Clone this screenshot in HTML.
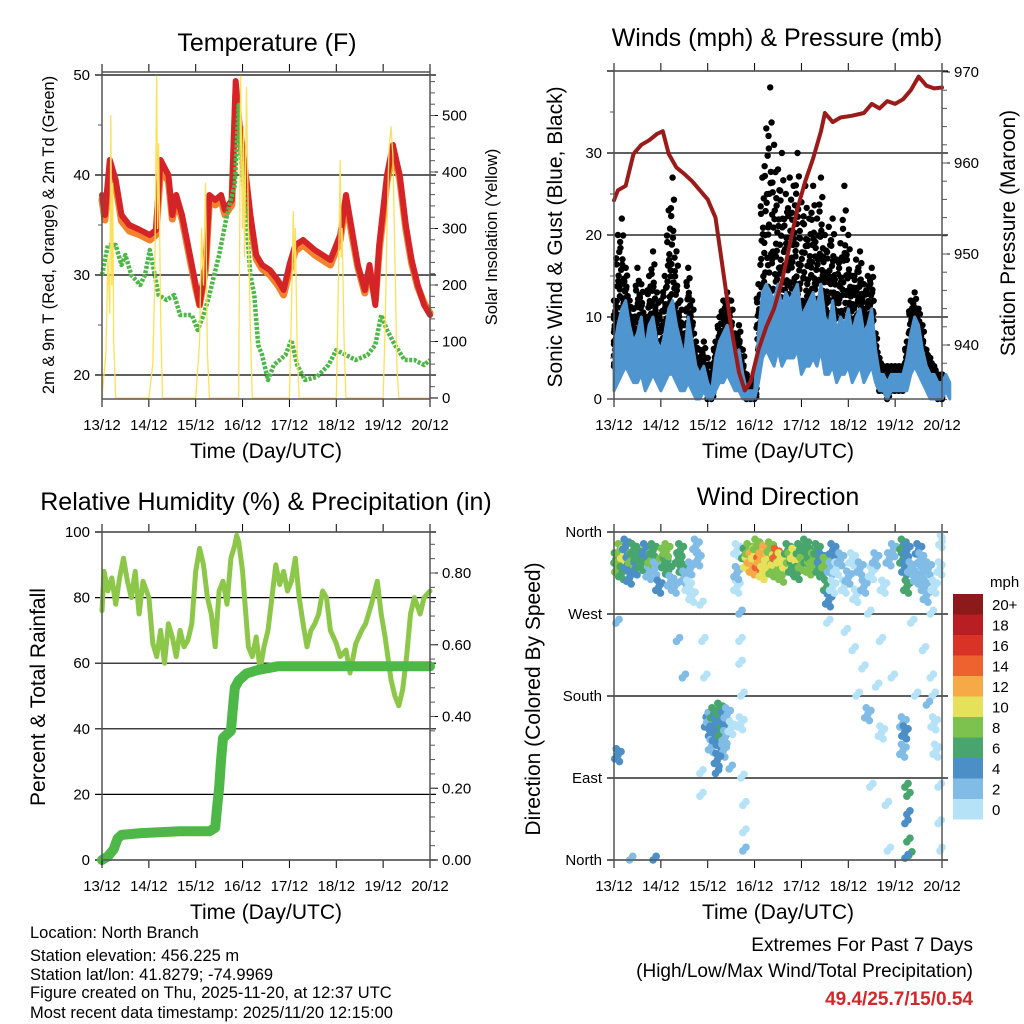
<!DOCTYPE html>
<html><head><meta charset="utf-8"><style>
html,body{margin:0;padding:0;background:#fff;}
svg{display:block;font-family:"Liberation Sans",Arial,sans-serif;}
</style></head><body>
<svg id="chart" xmlns="http://www.w3.org/2000/svg" width="1024" height="1024" viewBox="0 0 1024 1024">
<rect width="1024" height="1024" fill="#fff"/>
<text x="267" y="51" font-size="25" text-anchor="middle">Temperature (F)</text>
<text x="777" y="46" font-size="25" text-anchor="middle">Winds (mph) &amp; Pressure (mb)</text>
<text x="266" y="510" font-size="25" text-anchor="middle">Relative Humidity (%) &amp; Precipitation (in)</text>
<text x="778" y="505" font-size="25" text-anchor="middle">Wind Direction</text>
<text x="266" y="458" font-size="21" text-anchor="middle">Time (Day/UTC)</text>
<text x="778" y="458" font-size="21" text-anchor="middle">Time (Day/UTC)</text>
<text x="266" y="919" font-size="21" text-anchor="middle">Time (Day/UTC)</text>
<text x="778" y="919" font-size="21" text-anchor="middle">Time (Day/UTC)</text>
<text transform="translate(54,235) rotate(-90)" font-size="16.5" text-anchor="middle">2m &amp; 9m T (Red, Orange) &amp; 2m Td (Green)</text>
<text transform="translate(497,237) rotate(-90)" font-size="16.5" text-anchor="middle">Solar Insolation (Yellow)</text>
<text transform="translate(562,237) rotate(-90)" font-size="21" text-anchor="middle">Sonic Wind &amp; Gust (Blue, Black)</text>
<text transform="translate(1015,233) rotate(-90)" font-size="21" text-anchor="middle">Station Pressure (Maroon)</text>
<text transform="translate(45,697) rotate(-90)" font-size="21" text-anchor="middle">Percent &amp; Total Rainfall</text>
<text transform="translate(540,699) rotate(-90)" font-size="21" text-anchor="middle">Direction (Colored By Speed)</text>
<g font-size="16.5">
<text x="30" y="938">Location: North Branch</text>
<text x="30" y="961">Station elevation: 456.225 m</text>
<text x="30" y="980">Station lat/lon: 41.8279; -74.9969</text>
<text x="30" y="998">Figure created on Thu, 2025-11-20, at 12:37 UTC</text>
<text x="30" y="1018">Most recent data timestamp: 2025/11/20 12:15:00</text>
</g>
<text x="973" y="951" font-size="19" text-anchor="end">Extremes For Past 7 Days</text>
<text x="973" y="977" font-size="19" text-anchor="end">(High/Low/Max Wind/Total Precipitation)</text>
<text x="973" y="1005" font-size="19" font-weight="bold" fill="#d0282b" text-anchor="end">49.4/25.7/15/0.54</text>
<text x="990" y="587" font-size="15">mph</text>
</svg>
<script>
// ---------- DATA ----------
const dayLabels = ["13/12","14/12","15/12","16/12","17/12","18/12","19/12","20/12"];
const tempHours = [0,1.5,4,7,10,14,19.5,24.5,27.6,30,34,36,38,41,45,48,50,53,55,58,61,63,66.5,68.5,70.5,73.7,76,79,82,86,90,93,96,99,103,109,117,122,125,128,131,134.6,137,140,142,146,149,152.5,155.6,158.6,161.7,165,168];
const temp2m = [38,36,41.5,39.5,36,35,34.5,34,34.5,41.5,40,36,38,36,32,29,27,31,38,37.5,38,36.5,37.5,49.4,45,40,36,32,31,30.5,29.5,28.5,31,33,33.5,32.5,31.5,34,38,34.5,31,28.5,31,27,33,40,43,40,35,31.5,29,27,26];
const temp9m = [37.5,35.5,40.8,39,35.4,34.4,34,33.5,34,40.5,39.4,35.6,37.5,35.6,31.6,28.7,27,30.5,37.5,37,37.5,36,37,48,44.5,39.5,35.5,31.6,30.6,30,29,28,30.4,32.4,33,32,31,33.5,37.5,34,30.8,28.2,30.6,27.4,32.4,39.4,42.4,39.6,34.6,31.2,28.8,27.2,26.2];
const dewHours = [0,3,7,10,12,15,19.5,22,24.5,26,29,33,37,40,43,46,49,52,55,60,64,68,70,71,73,76,78,80,82,85,88,91,94,97,100,104,110,116,120,125,130,136,140,143,146,150,155,160,165,168];
const dewPoint = [30,33,33,31,32,30,29,30,32.5,31,28,27.5,28,26,26,26,24.5,26,28,32,36,39,47,42,38,30,28,23,22,19.5,21,21.5,22,23.5,21,19.5,19.8,21,22.5,22,21.5,22,23,26,24.5,23,21.5,21.5,21,21.5];
const solarHours = [0,2,3,4,4.5,5,5.5,6,7,24,26,27,28,28.5,29,30,31,48,50,51,52,53,54,55,70,71,72,72.5,73,74,75,76,77,96,97,98,98.5,99,100,101,120,121,122,122.5,123,124,125,144,145,146,147,148,149,150,151,152,168];
const solar = [0,80,250,150,500,200,380,100,0,0,60,200,570,300,450,150,0,0,100,300,200,380,80,0,0,570,300,480,250,550,300,120,0,0,150,330,220,300,80,0,0,180,420,250,300,100,0,0,120,300,440,480,430,250,60,0,0];
const windHi = [6,9,11,12,9,7,8,10,6,9,10,7,6, 8,11,12,9,7,5,10,7,4,3,4,2,1, 5,7,8,9,7,5,6,3,1,1,1,8,13, 14,13,12,14,11,13,12,13,14,10,11,12, 13,11,14,10,9,12,8,10,9,11,8,10, 11,8,9,11,6,3,3,2,3,3,3,3, 5,8,10,9,6,4,3,3,2,2,3,2];
const windLo = [1,2,3,4,3,2,2,3,1,2,3,2,1, 2,3,3,2,1,1,2,1,0,0,1,0,0, 1,2,2,3,2,1,1,0,0,0,0,2,5, 6,5,4,6,4,5,5,5,6,3,4,4, 5,4,6,3,3,4,2,3,3,4,2,3, 4,2,3,4,2,1,1,0,1,1,1,1, 1,3,4,3,2,1,0,0,0,0,1,0];
const gustHi = [12,20,22,16,12,11,16,14,10,15,18,13,12, 15,23,27,18,12,9,16,12,7,6,7,5,4, 7,10,12,13,12,8,9,6,3,2,3,14,27, 33,38,31,28,30,25,27,26,30,24,26,22, 26,22,27,20,21,22,17,19,26,20,15,17, 18,14,15,16,8,5,4,4,4,4,4,4, 7,12,13,11,9,6,5,4,3,3,3,2];
const presHours = [0,2,6,10,14,18,22,25,28,32,36,40,44,48,52,56,60,64,67,70,74,78,82,86,90,94,98,102,106,108,112,116,122,128,132,136,140,144,148,152,156,160,164,168];
const pressure = [955.9,957,957.5,961,962,962.5,963.2,963.5,961,959.5,958.8,958,957,956,954,948,942,937,935,936,939.5,942,944,947,951,955,958,960.5,963.5,965.5,964.5,965,965.2,965.5,966.5,966,966.8,966.5,967,968,969.5,968.5,968.2,968.3];
const rhHours = [0,1,3,5,7,9,11,13,15,17,19,21,24,26,28,30,32,34,36,38,40,42,44,46,48,50,52,54,56,58,60,62,64,66,68,69,70,72,73,75,77,79,81,83,85,87,89,91,93,95,97,99,101,103,105,107,109,111,113,115,117,120,122,125,127,130,133,135,138,141,143,145,148,150,152,154,156,158,160,163,165,168];
const relHum = [76,88,82,86,78,86,92,85,80,88,75,85,80,66,62,70,60,72,68,62,70,65,67,72,88,95,90,80,75,65,82,85,78,92,96,99,97,88,80,65,62,68,58,65,70,80,90,84,88,82,85,92,80,72,65,70,72,75,82,80,70,66,62,64,57,66,70,72,78,85,75,68,55,50,47,52,62,75,80,75,80,82];
const precipHours = [0,3,6,8,10,20,40,55,58,59,60,61,62,64,66,67,68,70,74,80,90,168];
const precip = [0,0.01,0.03,0.06,0.07,0.075,0.08,0.08,0.09,0.15,0.2,0.28,0.34,0.35,0.36,0.42,0.48,0.5,0.52,0.53,0.54,0.54];
const dirHours = [1,2,3,4,5,6,7,8,9,10,11,12,14,16,18,19,20,21,23,25,26,27,28,29,31,33,34,35,36,38,39,40,42,43,44, 1,2,8,20,32,35,44,44,45,46, 48,49,50,50,51,52,52,53,54,54,55,56,56,57,58,59,60,52,53, 63,63,64,64,64,65,65,65,66,66,66,63, 67,68,69,70,71,72,73,74,75,76,77,78,79,80,81,82,83,84,85,86,88,89,90,91,92,94,95,96,98,99,100,101,102,104,105,106,107,108,109,110,111,112,112,109, 114,116,118,118,120,122,122,124,124,126,127,128,130,130,131,132,134,134,136,137,138,139,140,141,142,143, 148,148,149,150,150,148,149,148,149,150,150,149,150,151,149,152,154,152,155, 156,157,158,159,160,161,162,162,163,164,164,165,166,166,167,167,168,160,158];
const dirDeg = [330,320,340,315,335,345,325,310,330,340,320,335,325,340,315,330,340,320,300,335,325,340,318,305,300,330,340,320,310,300,320,290,345,330,280, 260,115,0,0,240,200,95,70,240,200, 150,155,140,125,160,135,150,145,165,130,140,155,120,135,160,100,145,95,110, 340,300,270,240,215,180,150,90,60,30,10,315, 335,325,340,330,320,335,345,325,330,315,338,322,330,342,318,328,335,320,330,312,325,340,330,320,335,315,340,325,345,330,320,335,330,340,320,330,315,325,300,285,320,340,300,260, 320,330,300,250,310,330,230,290,180,320,210,300,270,160,80,315,330,190,240,140,300,60,10,330,200,340, 345,330,320,300,340,150,140,120,80,70,50,40,20,5,2,260,180,320,310, 340,330,315,300,290,320,270,200,180,150,300,120,80,40,10,320,350,170,230];
const dirSpeed = [6,9,8,7,10,5,4,4,8,6,5,7,6,4,3,8,6,3,4,9,7,8,6,3,2,7,6,6,2,1,2,1,2,3,1, 2,4,3,4,2,2,0,1,1,0, 4,3,4,3,6,4,5,5,7,4,6,5,3,2,3,2,1,4,4, 1,1,2,1,0,1,0,1,0,1,2,3, 6,10,8,13,12,11,9,14,12,11,13,10,10,8,9,11,14,9,10,8,10,7,9,6,10,7,6,8,6,7,8,6,8,6,6,5,7,8,6,4,3,4,1,1, 1,2,1,0,2,1,0,1,1,2,0,2,0,2,0,1,2,0,1,0,1,1,0,3,1,2, 6,6,4,6,5,3,4,3,6,6,5,4,6,6,4,1,0,3,2, 4,3,2,2,3,2,1,1,0,1,0,0,0,0,1,1,0,2,0];
const speedLabels = ["20+","18","16","14","12","10","8","6","4","2","0"];
const speedColors = ["#8c1a1a","#b81e23","#d93227","#ee6230","#f5a947","#e5e15a","#7dc14f","#48a56e","#4b8fc6","#80bce5","#b5e2f7"];

// ---------- HELPERS ----------
const svg = document.getElementById('chart');
const NS = 'http://www.w3.org/2000/svg';
function mk(tag, attrs, name, parent){
  const el = document.createElementNS(NS, tag);
  for (const k in attrs) el.setAttribute(k, attrs[k]);
  
  
  (parent||svg).appendChild(el);
  return el;
}
function txt(x,y,s,anchor,size,name){
  const t = mk('text',{x:x,y:y,'font-size':size||15,'text-anchor':anchor||'middle'},name);
  t.textContent = s;
  return t;
}
function poly(xs, ys, color, w, name, extra){
  const pts = xs.map((x,i)=>x.toFixed(1)+','+ys[i].toFixed(1)).join(' ');
  const a = {points:pts,fill:'none',stroke:color,'stroke-width':w,'stroke-linejoin':'round','stroke-linecap':'round'};
  if (extra) for (const k in extra) a[k]=extra[k];
  return mk('polyline',a,name);
}
function makeX(x0,x1){ return h => x0 + h/168*(x1-x0); }
function frame(P, prefix){
  for (let d=0; d<=7; d++){
    const x = P.xs(d*24);
    mk('line',{x1:x,y1:P.y1,x2:x,y2:P.y1+8,stroke:'#000','stroke-width':1},prefix+'-x-tick');
    mk('line',{x1:x,y1:P.y0,x2:x,y2:P.y0-8,stroke:'#000','stroke-width':1},prefix+'-x-tick-top');
    txt(x, P.y1+31, dayLabels[d], 'middle', 15, prefix+'-x-tick-label');
  }
  mk('rect',{x:P.x0,y:P.y0,width:P.x1-P.x0,height:P.y1-P.y0,fill:'none',stroke:'#555','stroke-width':1.5},prefix+'-plot-frame');
}
function leftAxis(P, vals, labels, yf, minors, prefix, grid){
  vals.forEach((v,i)=>{
    const y = yf(v);
    if (grid) mk('line',{x1:P.x0-7,y1:y,x2:P.x1+6,y2:y,stroke:'#000','stroke-width':1.2},prefix+'-gridline');
    else mk('line',{x1:P.x0-7,y1:y,x2:P.x0,y2:y,stroke:'#000','stroke-width':1},prefix+'-left-tick');
    txt(P.x0-12, y+5, labels[i], 'end', 15, prefix+'-left-tick-label');
  });
  minors.forEach(v=>{ const y=yf(v); mk('line',{x1:P.x0-4,y1:y,x2:P.x0,y2:y,stroke:'#555','stroke-width':1},prefix+'-left-minor-tick'); });
}
function rightAxis(P, vals, labels, yf, minors, prefix){
  vals.forEach((v,i)=>{
    const y = yf(v);
    mk('line',{x1:P.x1,y1:y,x2:P.x1+8,y2:y,stroke:'#000','stroke-width':1},prefix+'-right-tick');
    txt(P.x1+12, y+5, labels[i], 'start', 15, prefix+'-right-tick-label');
  });
  minors.forEach(v=>{ const y=yf(v); if (y>=P.y0-1 && y<=P.y1+1) mk('line',{x1:P.x1,y1:y,x2:P.x1+5,y2:y,stroke:'#555','stroke-width':1},prefix+'-right-minor-tick'); });
}
function range(a,b,s){ const r=[]; for(let v=a; v<=b+1e-9; v+=s) r.push(+v.toFixed(4)); return r; }

// ---------- PANEL 1: Temperature ----------
const P1 = {x0:102,x1:430,y0:72,y1:399}; P1.xs = makeX(P1.x0,P1.x1);
const yT = v => 575 - 10*v;
const ySol = w => 398 - w*0.565;
leftAxis(P1,[20,30,40,50],["20","30","40","50"],yT,[25,35,45],'temp',true);
rightAxis(P1,[0,100,200,300,400,500],["0","100","200","300","400","500"],ySol,range(20,560,20),'solar');
poly(temp9m.map((v,i)=>P1.xs(tempHours[i])), temp9m.map(yT), '#f4822c', 7, 'temp-9m-line');
poly(temp2m.map((v,i)=>P1.xs(tempHours[i])), temp2m.map(yT), '#d42428', 6, 'temp-2m-line');
poly(dewPoint.map((v,i)=>P1.xs(dewHours[i])), dewPoint.map(yT), '#4db848', 4.5, 'dewpoint-line', {'stroke-dasharray':'3,1.5','stroke-linecap':'butt'});
poly(solar.map((v,i)=>P1.xs(solarHours[i])), solar.map(ySol), '#fde05a', 1.3, 'solar-line');
frame(P1,'temp');

// ---------- PANEL 2: Winds & Pressure ----------
const P2 = {x0:614,x1:942,y0:71,y1:399}; P2.xs = makeX(P2.x0,P2.x1);
const yW = v => 399 - 8.2*v;
const yP = p => 345 - (p-940)*9.1;
leftAxis(P2,[0,10,20,30],["0","10","20","30"],yW,[5,15,25,35],'wind',false);
[10,20,30].forEach(v=>mk('line',{x1:P2.x0-7,y1:yW(v),x2:P2.x1+6,y2:yW(v),stroke:'#000','stroke-width':1.2},'wind-gridline'));
mk('line',{x1:P2.x0-7,y1:P2.y0,x2:P2.x1+6,y2:P2.y0,stroke:'#000','stroke-width':1.2},'wind-top-gridline');
rightAxis(P2,[940,950,960,970],["940","950","960","970"],yP,range(934,970,2),'pressure');
const gustFrac = [0,0.1,0.2,0.3,0.4,0.5,0.6,0.7,0.8,0.9,1.0,0.15,0.35,0.55,0.75,0.95];
const gustOff  = [0,0.7,-0.7,0.35,-0.35,1.0,-1.0,0.5,-0.5,0.85,-0.15,-0.85,0.2,-0.6,0.9,0.1];
windHi.forEach((hi,i)=>{
  const g = gustHi[i];
  const lo = Math.max(windLo[i], hi-2);
  gustFrac.forEach((f,k)=>{
    const v = g - (g-lo)*Math.pow(f,0.8);
    mk('circle',{cx:P2.xs(Math.min(168,Math.max(0,i*2+gustOff[k]))),cy:yW(v),r:3.2,fill:'#000'},'gust-dot');
  });
});
{
  const top = windHi.map((v,i)=>P2.xs(i*2).toFixed(1)+','+yW(v).toFixed(1));
  const bot = windLo.map((v,i)=>P2.xs(i*2).toFixed(1)+','+yW(v).toFixed(1)).reverse();
  mk('polygon',{points:top.concat(bot).join(' '),fill:'#4f95d0',stroke:'#4f95d0','stroke-width':3,'stroke-linejoin':'round'},'wind-speed-band');
}
poly(pressure.map((v,i)=>P2.xs(presHours[i])), pressure.map(yP), '#9b1b1b', 4, 'pressure-line');
frame(P2,'wind');

// ---------- PANEL 3: RH & Precip ----------
const P3 = {x0:102,x1:430,y0:532,y1:860}; P3.xs = makeX(P3.x0,P3.x1);
const yR = v => 860 - 3.28*v;
const yPr = v => 860 - v*358.75;
leftAxis(P3,[0,20,40,60,80,100],["0","20","40","60","80","100"],yR,[],'rh',true);
rightAxis(P3,[0,0.2,0.4,0.6,0.8],["0.00","0.20","0.40","0.60","0.80"],yPr,range(0.04,0.9,0.04),'precip');
poly(relHum.map((v,i)=>P3.xs(rhHours[i])), relHum.map(yR), '#8dc74a', 5, 'rh-line');
poly(precip.map((v,i)=>P3.xs(precipHours[i])), precip.map(yPr), '#4db848', 10, 'precip-line');
frame(P3,'rh');

// ---------- PANEL 4: Wind direction ----------
const P4 = {x0:614,x1:942,y0:532,y1:860}; P4.xs = makeX(P4.x0,P4.x1);
const yD = d => 860 - d/360*328;
leftAxis(P4,[0,90,180,270,360],["North","East","South","West","North"],yD,[],'dir',true);
const clusterDx = [0,1.6,-1.6,0.8,-0.8];
const clusterDy = [0,4,-4,-7,7];
dirDeg.forEach((d,i)=>{
  const s = dirSpeed[i];
  const idx = 10 - Math.min(10, Math.floor(s/2));
  const n = (d > 280 || (d > 100 && d < 170)) ? 5 : 2;
  for (let k=0;k<n;k++){
    const hh = Math.min(168, Math.max(0, dirHours[i]+clusterDx[k]));
    const dd = Math.min(360, Math.max(0, d+clusterDy[k]));
    mk('circle',{cx:P4.xs(hh),cy:yD(dd),r:3.8,fill:speedColors[idx]},'direction-point');
  }
});
frame(P4,'dir');
speedLabels.forEach((lab,i)=>{
  const y = 594 + i*20.5;
  mk('rect',{x:953,y:y,width:30,height:20.5,fill:speedColors[i]},'colorbar-box');
  txt(992, y+16, lab, 'start', 15, 'colorbar-label');
});
</script>
</body></html>
